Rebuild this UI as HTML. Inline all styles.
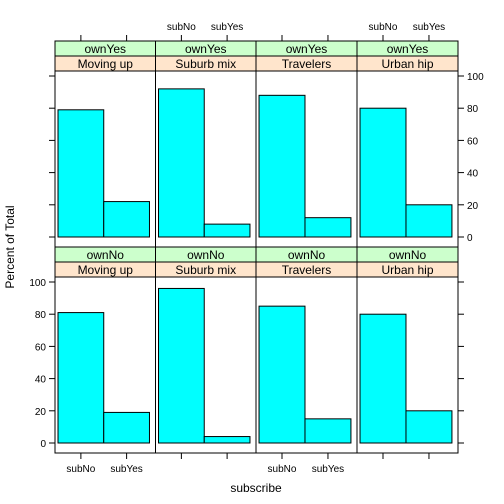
<!DOCTYPE html>
<html><head><meta charset="utf-8"><style>
body{margin:0;background:#fff}
svg{display:block;font-family:"Liberation Sans",sans-serif}
</style></head><body>
<svg id="c" width="504" height="504"></svg>
<script>
const columns=["Moving up","Suburb mix","Travelers","Urban hip"];
const categories=["subNo","subYes"];
const rowsLabel=["ownYes","ownNo"];
const valuesOwnYes=[[79,22],[92,8],[88,12],[80,20]];
const valuesOwnNo=[[81,19],[96,4],[85,15],[80,20]];
const yTicks=[0,20,40,60,80,100];
const NS="http://www.w3.org/2000/svg";
const svg=document.getElementById('c');
function mk(t,a,p){const e=document.createElementNS(NS,t);for(const k in a)e.setAttribute(k,a[k]);(p||svg).appendChild(e);return e;}
const colX=[55,155.5,256,357,458];
const rows=[{label:rowsLabel[0],vals:valuesOwnYes,stripTop:41,pTop:71,pBot:247,zero:237},
            {label:rowsLabel[1],vals:valuesOwnNo,stripTop:247,pTop:277,pBot:453,zero:443}];
const yUnit=1.61;
function xScale(c,i){const w=colX[c+1]-colX[c];return colX[c]+w*(0.03+0.455*i);}
rows.forEach((r,ri)=>{
  const y=v=>r.zero-v*yUnit;
  for(let c=0;c<4;c++){
    const x0=colX[c],x1=colX[c+1];
    let s=mk('rect',{x:x0,y:r.stripTop,width:x1-x0,height:15,fill:'#ccffcc',stroke:'#000','stroke-width':1});
     
    let t=mk('text',{x:(x0+x1)/2,y:r.stripTop+12,'text-anchor':'middle','font-size':12});t.textContent=r.label;
     
    s=mk('rect',{x:x0,y:r.stripTop+15,width:x1-x0,height:15,fill:'#ffe5cc',stroke:'#000','stroke-width':1});
     
    t=mk('text',{x:(x0+x1)/2,y:r.stripTop+27,'text-anchor':'middle','font-size':12});t.textContent=columns[c];
     
    const p=mk('rect',{x:x0,y:r.pTop,width:x1-x0,height:r.pBot-r.pTop,fill:'none',stroke:'#000','stroke-width':1});
     
    r.vals[c].forEach((v,i)=>{
      const bx=xScale(c,i),bw=xScale(c,i+1)-bx;
      const b=mk('rect',{x:bx,y:y(v),width:bw,height:v*yUnit,fill:'#00ffff',stroke:'#000','stroke-width':1});
       
    });
  }
  // y ticks
  yTicks.forEach(v=>{
    mk('line',{x1:colX[0]-6,x2:colX[0],y1:y(v),y2:y(v),stroke:'#000'});
    mk('line',{x1:colX[4],x2:colX[4]+6,y1:y(v),y2:y(v),stroke:'#000'});
    if(ri===1){const t=mk('text',{x:colX[0]-9,y:y(v)+4,'text-anchor':'end','font-size':10});t.textContent=v;
       }
    else{const t=mk('text',{x:colX[4]+9,y:y(v)+4,'text-anchor':'start','font-size':10});t.textContent=v;
       }
  });
});
// x ticks
for(let c=0;c<4;c++){
  categories.forEach((cat,i)=>{
    const cx=(xScale(c,i)+xScale(c,i+1))/2;
    mk('line',{x1:cx,x2:cx,y1:453,y2:459,stroke:'#000'});
    mk('line',{x1:cx,x2:cx,y1:35,y2:41,stroke:'#000'});
    if(c%2===0){const t=mk('text',{x:cx,y:472,'text-anchor':'middle','font-size':10});t.textContent=cat;
       }
    else{const t=mk('text',{x:cx,y:30,'text-anchor':'middle','font-size':10});t.textContent=cat;
       }
  });
}
let t=mk('text',{x:256,y:492,'text-anchor':'middle','font-size':12});t.textContent='subscribe';
 
t=mk('text',{x:14,y:247,'text-anchor':'middle','font-size':12,transform:'rotate(-90 14 247)'});t.textContent='Percent of Total';
 
</script>
</body></html>
